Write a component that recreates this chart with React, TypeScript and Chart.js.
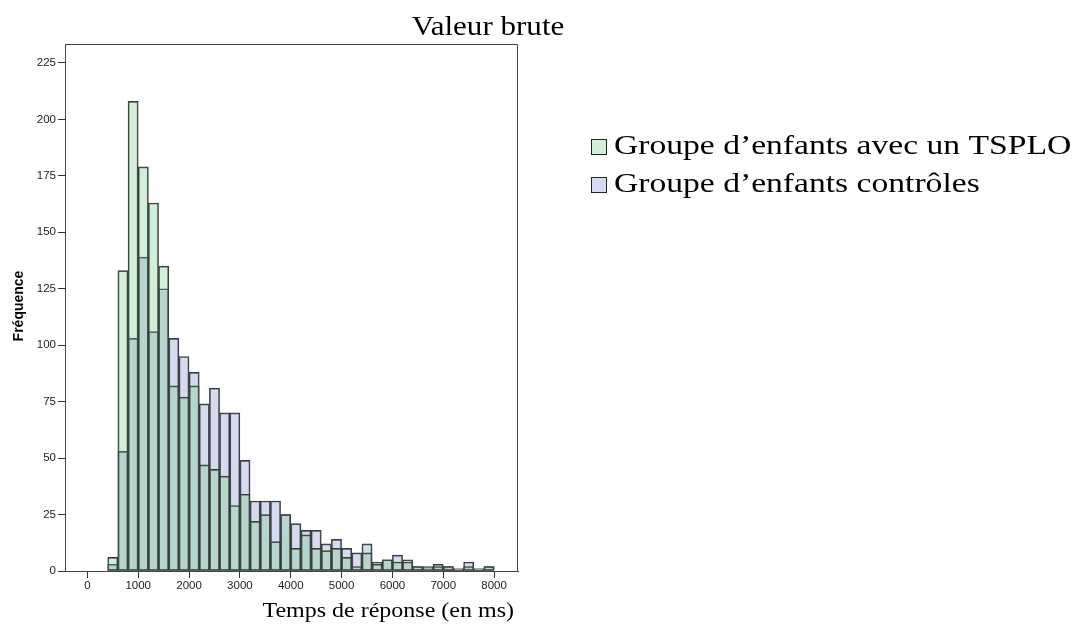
import React, { useEffect, useRef } from 'react';
import { Chart, registerables } from 'chart.js';

Chart.register(...registerables);

// ---- data ----
const binStarts = [400, 600, 800, 1000, 1200, 1400, 1600, 1800, 2000, 2200, 2400, 2600, 2800, 3000, 3200, 3400, 3600, 3800, 4000, 4200, 4400, 4600, 4800, 5000, 5200, 5400, 5600, 5800, 6000, 6200, 6400, 6600, 6800, 7000, 7200, 7400, 7600, 7800];
const binWidth = 200;
const tsploCounts = [6, 133, 208, 179, 163, 135, 82, 77, 82, 47, 45, 42, 29, 34, 22, 25, 13, 25, 10, 16, 10, 9, 10, 6, 2, 8, 3, 5, 4, 4, 2, 2, 2, 2, 1, 2, 1, 2];
const controlCounts = [3, 53, 103, 139, 106, 125, 103, 95, 88, 74, 81, 70, 70, 49, 31, 31, 31, 25, 21, 18, 18, 12, 14, 10, 8, 12, 4, 5, 7, 5, 2, 1, 3, 2, 1, 4, 1, 2];
const xTicks = [0, 1000, 2000, 3000, 4000, 5000, 6000, 7000, 8000];
const yTicks = [0, 25, 50, 75, 100, 125, 150, 175, 200, 225];

const seriesLabels = ['Groupe d\u2019enfants avec un TSPLO', 'Groupe d\u2019enfants contr\u00f4les'];
const chartTitle = 'Valeur brute';
const xTitle = 'Temps de r\u00e9ponse (en ms)';
const yTitle = 'Fr\u00e9quence';

const W = 1087;
const H = 630;
const AREA = { left: 65, right: 518, top: 44, bottom: 571 };

const tsploFill = 'rgba(101,198,119,0.28)';
const controlFill = 'rgba(118,135,202,0.30)';
const legendFills = ['rgb(212,239,217)', 'rgb(214,219,239)'];
const edge = '#3a3a3a';

const SERIF = '"Liberation Serif", "Times New Roman", serif';
const SANS = '"Liberation Sans", Arial, sans-serif';

function stretchedText(ctx: CanvasRenderingContext2D, text: string, x: number, y: number, font: string, sx: number, align: 'left' | 'right' | 'center') {
  ctx.save();
  ctx.font = font;
  ctx.textBaseline = 'middle';
  ctx.textAlign = 'left';
  const w = ctx.measureText(text).width * sx;
  let x0 = x;
  if (align === 'right') x0 = x - w;
  if (align === 'center') x0 = x - w / 2;
  ctx.translate(x0, y);
  ctx.scale(sx, 1);
  ctx.fillStyle = '#000';
  ctx.fillText(text, 0, 0);
  ctx.restore();
}

const decorPlugin = {
  id: 'decor',
  afterDraw(chart: any) {
    const ctx: CanvasRenderingContext2D = chart.ctx;
    const a = chart.chartArea;
    ctx.save();
    // frame (top/right sides)
    ctx.strokeStyle = '#444';
    ctx.lineWidth = 1;
    ctx.beginPath();
    ctx.moveTo(a.left, a.top + 0.5);
    ctx.lineTo(a.right - 0.5, a.top + 0.5);
    ctx.lineTo(a.right - 0.5, a.bottom);
    ctx.stroke();

    // title
    stretchedText(ctx, chartTitle, 488, 28, `27px ${SERIF}`, 1.15, 'center');
    // x title
    stretchedText(ctx, xTitle, 514, 612, `20px ${SERIF}`, 1.2, 'right');
    // y title
    ctx.save();
    ctx.translate(19, 306);
    ctx.rotate(-Math.PI / 2);
    ctx.font = `bold 14px ${SANS}`;
    ctx.fillStyle = '#000';
    ctx.textAlign = 'center';
    ctx.textBaseline = 'middle';
    ctx.fillText(yTitle, 0, 0);
    ctx.restore();

    // legend
    const rows = [147, 185];
    rows.forEach((cy, i) => {
      ctx.fillStyle = legendFills[i];
      ctx.fillRect(591, cy - 8, 16, 16);
      ctx.strokeStyle = '#222';
      ctx.lineWidth = 1;
      ctx.strokeRect(591.5, cy - 7.5, 15, 15);
      stretchedText(ctx, seriesLabels[i], 614, cy, `28px ${SERIF}`, 1.2, 'left');
    });
    ctx.restore();
  },
};

export default function App() {
  const ref = useRef<HTMLCanvasElement | null>(null);

  useEffect(() => {
    if (!ref.current) return;
    const centers = binStarts.map((s) => s + binWidth / 2);
    const chart = new Chart(ref.current, {
      type: 'bar',
      data: {
        datasets: [
          {
            label: seriesLabels[0],
            data: centers.map((x, i) => ({ x, y: tsploCounts[i] })),
            backgroundColor: tsploFill,
            borderColor: edge,
            borderWidth: 1,
            borderSkipped: false,
            grouped: false,
            barPercentage: 1,
            categoryPercentage: 1,
          },
          {
            label: seriesLabels[1],
            data: centers.map((x, i) => ({ x, y: controlCounts[i] })),
            backgroundColor: controlFill,
            borderColor: edge,
            borderWidth: 1,
            borderSkipped: false,
            grouped: false,
            barPercentage: 1,
            categoryPercentage: 1,
          },
        ],
      } as any,
      options: {
        animation: false,
        responsive: true,
        maintainAspectRatio: false,
        layout: { padding: { left: 0, top: AREA.top, right: W - AREA.right, bottom: 0 } },
        plugins: { legend: { display: false }, title: { display: false }, tooltip: { enabled: false } },
        scales: {
          x: {
            type: 'linear',
            min: -440,
            max: 8470,
            offset: false,
            afterFit: (s: any) => { s.height = H - AREA.bottom; },
            afterBuildTicks: (s: any) => { s.ticks = xTicks.map((v) => ({ value: v })); },
            grid: { display: true, offset: false, drawOnChartArea: false, drawTicks: true, tickLength: 7, color: '#333' },
            border: { display: true, color: '#444', width: 1 },
            ticks: { padding: 1, color: '#222', font: { family: SANS, size: 11.5 }, maxRotation: 0, autoSkip: false, callback: (v: any) => String(v) },
          },
          y: {
            type: 'linear',
            min: 0,
            max: 233.4,
            afterFit: (s: any) => { s.width = AREA.left; },
            afterBuildTicks: (s: any) => { s.ticks = yTicks.map((v) => ({ value: v })); },
            grid: { display: true, drawOnChartArea: false, drawTicks: true, tickLength: 7, color: '#333' },
            border: { display: true, color: '#444', width: 1 },
            ticks: { padding: 2, color: '#222', font: { family: SANS, size: 11.5 }, autoSkip: false, callback: (v: any) => String(v) },
          },
        },
      } as any,
      plugins: [decorPlugin],
    });
    return () => chart.destroy();
  }, []);

  return (
    <div style={{ position: 'fixed', left: 0, top: 0, width: W, height: H, background: '#fff' }}>
      <canvas ref={ref} />
    </div>
  );
}
